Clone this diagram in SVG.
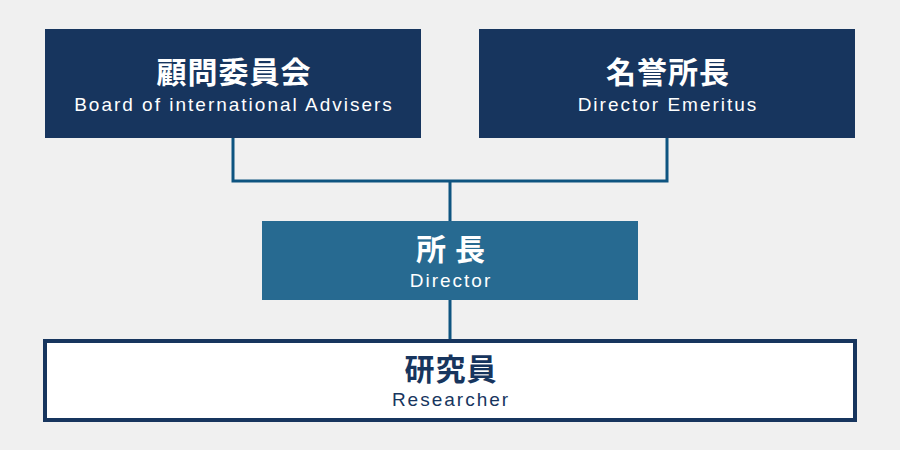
<svg xmlns="http://www.w3.org/2000/svg" width="900" height="450" viewBox="0 0 900 450">
<style>
.jp{font-family:"Noto Sans CJK JP","Noto Sans",sans-serif;font-weight:bold;font-size:30px;letter-spacing:1px;text-anchor:middle}
.en{font-family:"Liberation Sans",Arial,sans-serif;font-size:19px;letter-spacing:2px;text-anchor:middle}
.w{fill:#ffffff}
.d{fill:#17355e}
.conn{fill:none;stroke:#0e5480;stroke-width:3}
</style>
<rect width="900" height="450" fill="#f0f0f0"/>
<g id="connectors">
<path class="conn" d="M233,138 V181 H667 V138"/>
<path class="conn" d="M450,181 V221"/>
<path class="conn" d="M450,300 V340"/>
</g>
<g id="board">
<rect x="45" y="29" width="376" height="109" fill="#17355e"/>
<text class="jp w" x="234" y="83">顧問委員会</text>
<text class="en w" x="234" y="111">Board of international Advisers</text>
</g>
<g id="emeritus">
<rect x="479" y="29" width="376" height="109" fill="#17355e"/>
<text class="jp w" x="668" y="83">名誉所長</text>
<text class="en w" x="668" y="111">Director Emeritus</text>
</g>
<g id="director">
<rect x="262" y="221" width="376" height="79" fill="#276a91"/>
<text class="jp w" x="451" y="260" xml:space="preserve">所 長</text>
<text class="en w" x="451" y="287">Director</text>
</g>
<g id="researcher">
<rect x="45" y="341" width="810" height="79" fill="#ffffff" stroke="#17355e" stroke-width="4"/>
<text class="jp d" x="451" y="380">研究員</text>
<text class="en d" x="451" y="406">Researcher</text>
</g>
</svg>
